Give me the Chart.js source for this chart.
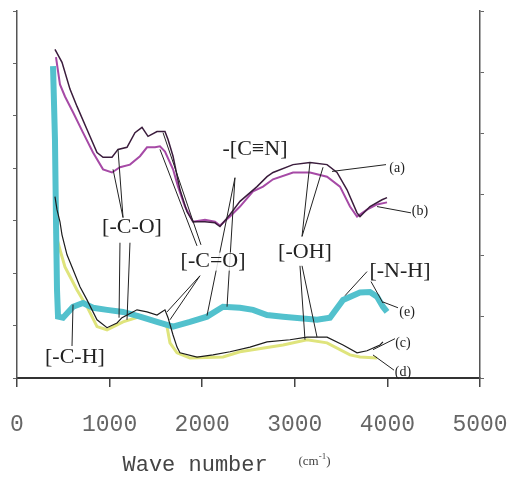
<!DOCTYPE html>
<html>
<head>
<meta charset="utf-8">
<script src="https://cdn.jsdelivr.net/npm/chart.js@4"></script>
<style>
  html, body { margin: 0; padding: 0; background: #fff; }
  #wrap { width: 509px; height: 477px; }
</style>
</head>
<body>
<div id="wrap"><canvas id="irChart" width="509" height="477"></canvas></div>
<script>
/*************************************************
 * IR spectra data (wave number, relative absorbance)
 *************************************************/
const xTicks = [0, 1000, 2000, 3000, 4000, 5000];

const waveA = [410, 486, 572, 648, 756, 864, 929, 1026, 1091, 1188, 1274, 1350, 1415, 1512, 1598, 1631, 1685, 1760, 1836, 1901, 2030, 2138, 2192, 2300, 2408, 2592, 2700, 2765, 2981, 3164, 3348, 3456, 3564, 3672, 3704, 3812, 3942, 3996];
const absA  = [6.27, 6.02, 5.51, 5.18, 4.74, 4.30, 4.21, 4.21, 4.36, 4.40, 4.68, 4.78, 4.61, 4.70, 4.70, 4.55, 4.23, 3.59, 3.17, 2.98, 2.98, 2.96, 2.89, 3.12, 3.37, 3.65, 3.84, 3.92, 4.07, 4.11, 4.07, 3.92, 3.59, 3.15, 3.08, 3.27, 3.40, 3.44];

const waveB = [421, 464, 518, 605, 713, 821, 929, 1026, 1112, 1220, 1328, 1404, 1490, 1544, 1598, 1685, 1739, 1814, 1901, 2030, 2138, 2192, 2300, 2408, 2549, 2657, 2765, 2981, 3164, 3348, 3488, 3596, 3672, 3780, 3888, 3996];
const absB  = [6.12, 5.60, 5.37, 5.07, 4.68, 4.30, 3.98, 3.92, 4.02, 4.07, 4.23, 4.40, 4.40, 4.42, 4.32, 3.98, 3.65, 3.27, 2.98, 3.02, 2.98, 2.91, 3.08, 3.27, 3.56, 3.65, 3.79, 3.92, 3.92, 3.84, 3.65, 3.27, 3.08, 3.21, 3.31, 3.35];

const waveC = [410, 432, 464, 486, 540, 605, 680, 756, 864, 972, 1080, 1134, 1296, 1404, 1512, 1598, 1631, 1685, 1728, 1760, 1944, 2117, 2300, 2516, 2700, 2948, 3132, 3348, 3521, 3672, 3780, 3920, 3952];
const absC  = [3.46, 3.21, 2.98, 2.73, 2.35, 2.07, 1.74, 1.49, 1.11, 0.96, 1.05, 1.15, 1.30, 1.26, 1.20, 1.30, 1.15, 0.82, 0.59, 0.48, 0.40, 0.44, 0.50, 0.59, 0.69, 0.73, 0.78, 0.78, 0.63, 0.48, 0.52, 0.63, 0.69];

const waveD = [410, 464, 518, 648, 756, 864, 972, 1145, 1328, 1512, 1620, 1652, 1728, 1868, 2225, 2408, 2873, 3132, 3348, 3596, 3704, 3888];
const absD  = [2.79, 2.45, 2.12, 1.68, 1.36, 0.98, 0.92, 1.07, 1.17, 1.07, 0.98, 0.67, 0.48, 0.38, 0.40, 0.50, 0.63, 0.73, 0.67, 0.44, 0.40, 0.38];

const waveE = [389, 410, 421, 432, 443, 497, 605, 713, 821, 972, 1145, 1328, 1512, 1685, 1868, 2052, 2225, 2408, 2549, 2700, 2873, 3240, 3380, 3521, 3704, 3812, 3888, 3952, 3996];
const absE  = [5.95, 4.55, 3.02, 1.68, 1.17, 1.15, 1.36, 1.43, 1.34, 1.30, 1.26, 1.17, 1.07, 0.98, 1.07, 1.17, 1.36, 1.34, 1.30, 1.20, 1.17, 1.11, 1.15, 1.49, 1.63, 1.64, 1.55, 1.36, 1.26];

/*************************************************
 * Band labels with leader lines (data coordinates)
 *************************************************/
const bandLabels = [
    { text: "[-C-O]",  at: [1242, 2.87], size: 22, lines: [[1145, 3.06, 1091, 4.36], [1145, 3.06, 1037, 3.98], [1112, 2.58, 1102, 1.15], [1220, 2.58, 1188, 1.11]] },
    { text: "-[C\u2261N]", at: [2570, 4.36], size: 22, lines: [[2354, 3.82, 2268, 1.36], [2354, 3.82, 2052, 1.19]] },
    { text: "[-C=O]",  at: [2117, 2.22], size: 22, lines: [[1987, 2.54, 1577, 4.68], [1944, 2.52, 1544, 4.36], [1976, 1.95, 1620, 1.26], [1976, 1.95, 1652, 1.11]] },
    { text: "[-OH]",   at: [3110, 2.39], size: 22, lines: [[3078, 2.70, 3164, 4.11], [3078, 2.70, 3305, 4.02], [3056, 2.14, 3110, 0.73], [3078, 2.14, 3240, 0.78]] },
    { text: "[-N-H]",  at: [4136, 2.03], size: 22, lines: [[3780, 2.03, 3542, 1.57], [3823, 1.84, 3952, 1.43]] },
    { text: "[-C-H]",  at: [626, 0.40],  size: 22, lines: [[594, 0.61, 605, 1.40]] },
    { text: "(a)", at: [4104, 4.00], size: 14, lines: [[3985, 4.07, 3402, 3.94]] },
    { text: "(b)", at: [4352, 3.17], size: 14, lines: [[4255, 3.15, 3888, 3.27]] },
    { text: "(e)", at: [4212, 1.26], size: 14, lines: [[4114, 1.34, 3952, 1.45]] },
    { text: "(c)", at: [4168, 0.67], size: 14, lines: [[4082, 0.75, 3844, 0.54]] },
    { text: "(d)", at: [4168, 0.10], size: 14, lines: [[4071, 0.15, 3844, 0.44]] }
];

function toPoints(xs, ys) {
    return xs.map((x, i) => ({ x: x, y: ys[i] }));
}

const bandLabelPlugin = {
    id: "bandLabels",
    afterDatasetsDraw(chart) {
        const { ctx, scales: { x, y } } = chart;
        ctx.save();
        ctx.strokeStyle = "#222";
        ctx.lineWidth = 1;
        bandLabels.forEach(b => {
            b.lines.forEach(l => {
                ctx.beginPath();
                ctx.moveTo(x.getPixelForValue(l[0]), y.getPixelForValue(l[1]));
                ctx.lineTo(x.getPixelForValue(l[2]), y.getPixelForValue(l[3]));
                ctx.stroke();
            });
        });
        ctx.fillStyle = "#222";
        ctx.textAlign = "center";
        ctx.textBaseline = "middle";
        bandLabels.forEach(b => {
            ctx.font = b.size + "px 'Liberation Serif'";
            const px = x.getPixelForValue(b.at[0]);
            const py = y.getPixelForValue(b.at[1]);
            if (b.size > 16) {
                const w = ctx.measureText(b.text).width;
                ctx.fillStyle = "rgba(255,255,255,0.85)";
                ctx.fillRect(px - w / 2, py - 9, w, 18);
                ctx.fillStyle = "#222";
            }
            ctx.fillText(b.text, px, py);
        });

        // axis title
        const cx = (x.left + x.right) / 2;
        ctx.fillStyle = "#444";
        ctx.textAlign = "left";
        ctx.font = "22px 'Liberation Mono'";
        ctx.fillText("Wave number", cx - 126, 465);
        ctx.font = "13px 'Liberation Serif'";
        ctx.fillText("(cm", cx + 50, 462);
        const w1 = ctx.measureText("(cm").width;
        ctx.font = "9px 'Liberation Serif'";
        ctx.fillText("-1", cx + 50 + w1, 457);
        const w2 = ctx.measureText("-1").width;
        ctx.font = "13px 'Liberation Serif'";
        ctx.fillText(")", cx + 50 + w1 + w2, 462);
        ctx.restore();
    }
};

new Chart(document.getElementById("irChart"), {
    type: "line",
    data: {
        datasets: [
            { label: "(a)", data: toPoints(waveA, absA), borderColor: "#3a1c3c", borderWidth: 1.5, order: 1 },
            { label: "(b)", data: toPoints(waveB, absB), borderColor: "#a64aa6", borderWidth: 2, order: 3 },
            { label: "(c)", data: toPoints(waveC, absC), borderColor: "#1c1c1c", borderWidth: 1.2, order: 2 },
            { label: "(d)", data: toPoints(waveD, absD), borderColor: "#dfe47c", borderWidth: 3, order: 5 },
            { label: "(e)", data: toPoints(waveE, absE), borderColor: "#52c1cd", borderWidth: 6, order: 4 }
        ]
    },
    options: {
        responsive: false,
        animation: false,
        elements: { point: { radius: 0 }, line: { tension: 0, fill: false } },
        layout: { padding: { top: 11, left: 0, right: 0, bottom: 0 } },
        plugins: { legend: { display: false }, tooltip: { enabled: false } },
        scales: {
            x: {
                type: "linear",
                min: xTicks[0],
                max: xTicks[xTicks.length - 1],
                afterBuildTicks: s => { s.ticks = xTicks.map(v => ({ value: v })); },
                afterFit: s => { s.height = 99; s.paddingLeft = 0; s.paddingRight = 0; },
                ticks: {
                    color: "#666",
                    font: { family: "'Liberation Mono'", size: 23 },
                    padding: 24,
                    maxRotation: 0,
                    callback: v => String(v)
                },
                grid: { drawOnChartArea: false, tickLength: 9, color: "#444", lineWidth: 1.5 },
                border: { color: "#333", width: 2 }
            },
            y: {
                position: "left",
                min: 0,
                max: 7,
                afterFit: s => { s.width = 17; },
                ticks: { display: false, stepSize: 1 },
                grid: { drawOnChartArea: false, tickLength: 4, color: "#666" },
                border: { color: "#555", width: 1.5 }
            },
            y2: {
                position: "right",
                min: 0,
                max: 6,
                afterFit: s => { s.width = 29; },
                ticks: { display: false, stepSize: 1 },
                grid: { drawOnChartArea: false, tickLength: 4, color: "#666" },
                border: { color: "#555", width: 1.5 }
            }
        }
    },
    plugins: [bandLabelPlugin]
});
</script>
</body>
</html>
